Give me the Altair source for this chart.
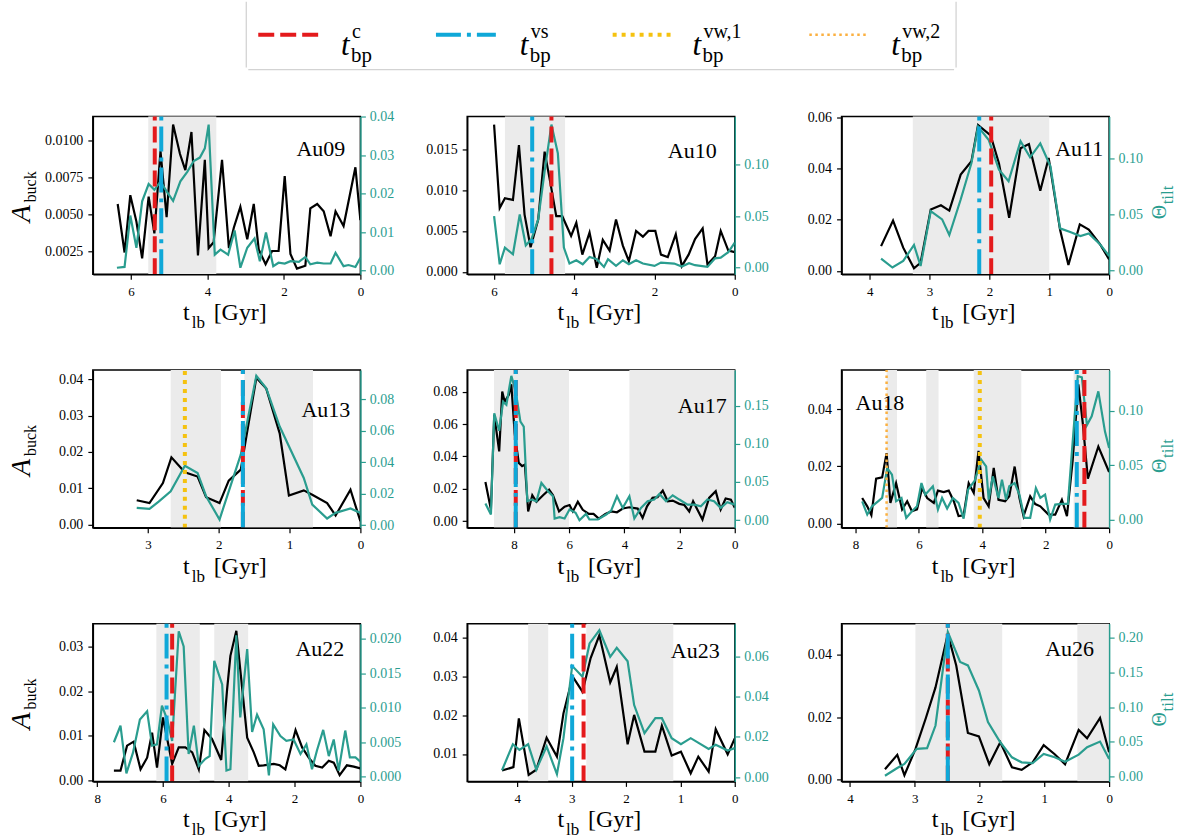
import altair as alt
import pandas as pd

SERIF = "'Liberation Serif', 'DejaVu Serif', serif"
TEAL = "#2a9d8f"
RED = "#e41a1c"
BLUE = "#0fa8d8"
GOLD = "#f5c20f"
ORANGE = "#fbb040"
BAND = "#ebebeb"

# ---------------------------------------------------------------------------
# Buckling amplitude A_buck and bar tilt Theta_tilt vs lookback time (Gyr)
# each series: list of (t_lb, value)
# ---------------------------------------------------------------------------
AU09_BUCK = [(6.35, .0057), (6.17, .0024), (6.02, .0063), (5.86, .0045), (5.71, .0020), (5.54, .0062),
             (5.39, .0037), (5.23, .0093), (5.07, .0048), (4.90, .0111), (4.72, .0091), (4.58, .0080),
             (4.42, .0106), (4.25, .0022), (4.07, .0087), (3.97, .0027), (3.84, .0031), (3.62, .0087),
             (3.44, .0027), (3.31, .0041), (3.14, .0055), (2.96, .0033), (2.79, .0057), (2.66, .0026),
             (2.48, .0016), (2.31, .0025), (2.14, .0025), (1.98, .0076), (1.83, .0023), (1.66, .0013),
             (1.44, .0015), (1.31, .0054), (1.13, .0057), (0.96, .0052), (0.78, .0035), (0.65, .0052),
             (0.44, .0042), (0.13, .0082), (0.00, .0046)]
AU09_TILT = [(6.37, .0007), (6.17, .0009), (6.02, .0143), (5.86, .0059), (5.71, .0180), (5.54, .0225),
             (5.39, .0210), (5.23, .0232), (5.07, .0206), (4.90, .0181), (4.71, .0232), (4.53, .0257),
             (4.36, .0285), (4.20, .0294), (4.07, .0318), (3.97, .0380), (3.81, .0041), (3.66, .0054),
             (3.46, .0041), (3.29, .0104), (3.14, .0007), (2.96, .0059), (2.77, .0083), (2.63, .0024),
             (2.47, .0099), (2.28, .0011), (2.14, .0020), (1.98, .0018), (1.83, .0024), (1.61, .0022),
             (1.44, .0035), (1.31, .0016), (1.13, .0020), (0.96, .0018), (0.78, .0018), (0.65, .0046),
             (0.44, .0011), (0.31, .0014), (0.13, .0009), (0.00, .0033)]
AU09_BANDS = [(5.55, 3.77)]
AU09_EVENTS = [("c", 5.38), ("vs", 5.21)]

AU10_BUCK = [(6.00, .0180), (5.86, .0078), (5.73, .0090), (5.53, .0088), (5.38, .0155), (5.24, .0070),
             (5.09, .0030), (4.90, .0064), (4.74, .0147), (4.59, .0107), (4.45, .0068), (4.30, .0068),
             (4.08, .0044), (3.95, .0060), (3.80, .0021), (3.62, .0048), (3.44, .0005), (3.29, .0039),
             (3.12, .0026), (2.96, .0064), (2.79, .0032), (2.64, .0013), (2.46, .0050), (2.29, .0043),
             (2.15, .0050), (1.98, .0050), (1.84, .0021), (1.67, .0018), (1.47, .0046), (1.32, .0007),
             (1.15, .0021), (0.99, .0040), (0.80, .0053), (0.68, .0009), (0.49, .0019), (0.35, .0050),
             (0.16, .0026), (0.00, .0024)]
AU10_TILT = [(6.00, .0500), (5.86, .0032), (5.73, .0194), (5.53, .0129), (5.36, .0516), (5.21, .0216),
             (5.07, .0274), (4.90, .0468), (4.74, .0935), (4.57, .1390), (4.41, .1110), (4.26, .0194),
             (4.12, .0039), (3.95, .0071), (3.79, .0032), (3.62, .0103), (3.44, .0081), (3.26, .0006),
             (3.16, .0081), (2.96, .0016), (2.79, .0071), (2.64, .0032), (2.46, .0071), (2.29, .0039),
             (2.00, .0016), (1.84, .0048), (1.51, .0039), (1.32, .0010), (1.14, .0042), (0.99, .0023),
             (0.68, .0006), (0.49, .0090), (0.35, .0097), (0.16, .0150), (0.00, .0242)]
AU10_BANDS = [(5.73, 4.23)]
AU10_EVENTS = [("c", 4.57), ("vs", 5.05)]

AU11_BUCK = [(3.81, .0097), (3.61, .0197), (3.44, .0091), (3.26, .0010), (3.15, .0032), (2.98, .0240),
             (2.81, .0257), (2.67, .0236), (2.48, .0377), (2.30, .0429), (2.19, .0571), (1.98, .0530),
             (1.84, .0420), (1.67, .0208), (1.48, .0480), (1.34, .0496), (1.15, .0314), (1.01, .0442),
             (0.82, .0162), (0.68, .0023), (0.49, .0182), (0.34, .0162), (0.15, .0104), (0.00, .0045)]
AU11_TILT = [(3.81, .0104), (3.62, .0024), (3.44, .0083), (3.26, .0225), (3.15, .0038), (2.98, .0527),
             (2.79, .0453), (2.67, .0314), (2.48, .0630), (2.30, .0956), (2.19, .1280), (2.01, .1160),
             (1.84, .0896), (1.68, .0793), (1.48, .1150), (1.32, .1006), (1.15, .1130), (0.98, .0926),
             (0.82, .0373), (0.65, .0340), (0.48, .0305), (0.34, .0328), (0.15, .0230), (0.00, .0127)]
AU11_BANDS = [(3.28, 1.00)]
AU11_EVENTS = [("c", 1.97), ("vs", 2.17)]

AU13_BUCK = [(3.16, .0067), (2.98, .0059), (2.79, .0114), (2.67, .0185), (2.48, .0144), (2.30, .0132),
             (2.18, .0075), (1.99, .0059), (1.86, .0121), (1.69, .0151), (1.47, .0404), (1.33, .0374),
             (1.14, .0251), (1.01, .0080), (0.80, .0094), (0.68, .0082), (0.47, .0059), (0.35, .0025),
             (0.14, .0096), (0.00, .0009)]
AU13_TILT = [(3.16, .0110), (2.98, .0103), (2.85, .0150), (2.68, .0215), (2.48, .0378), (2.30, .0331),
             (2.18, .0184), (1.99, .0036), (1.69, .0448), (1.47, .0950), (1.33, .0870), (1.14, .0627),
             (0.80, .0300), (0.68, .0131), (0.47, .0042), (0.35, .0078), (0.14, .0106), (0.00, .0078)]
AU13_BANDS = [(2.68, 1.97), (1.64, 0.67)]
AU13_EVENTS = [("vw1", 2.48), ("c", 1.66), ("vs", 1.66)]

AU17_BUCK = [(9.04, .0242), (8.84, .0072), (8.72, .0656), (8.54, .0431), (8.43, .0800), (8.34, .0738),
             (8.19, .0780), (8.10, .0845), (7.98, .0544), (7.83, .0360), (7.71, .0340), (7.61, .0350),
             (7.49, .0060), (7.34, .0160), (7.19, .0120), (6.95, .0160), (6.73, .0195), (6.59, .0160),
             (6.37, .0060), (6.17, .0090), (5.99, .0100), (5.87, .0060), (5.69, .0120), (5.51, .0070),
             (5.29, .0045), (5.12, .0045), (4.93, .0016), (4.69, .0045), (4.48, .0060), (4.27, .0055),
             (4.06, .0078), (3.82, .0086), (3.52, .0078), (3.34, .0020), (3.18, .0092), (2.98, .0144),
             (2.80, .0148), (2.61, .0189), (2.43, .0123), (2.25, .0127), (2.01, .0107), (1.83, .0100),
             (1.65, .0060), (1.51, .0123), (1.17, .0010), (0.93, .0144), (0.69, .0185), (0.51, .0072),
             (0.33, .0140), (0.14, .0133), (0.00, .0082)]
AU17_TILT = [(9.04, .0217), (8.84, .0074), (8.72, .1400), (8.54, .1170), (8.40, .1550), (8.28, .1510),
             (8.10, .1890), (7.94, .1680), (7.77, .1290), (7.65, .1226), (7.52, .0248), (7.37, .0270),
             (7.19, .0248), (7.01, .0487), (6.77, .0378), (6.59, .0313), (6.53, .0022), (6.35, .0039),
             (6.17, .0022), (5.99, .0139), (5.77, .0096), (5.63, .0000), (5.39, .0083), (5.27, .0009),
             (4.96, .0009), (4.66, .0074), (4.48, .0126), (4.27, .0313), (4.06, .0161), (3.82, .0313),
             (3.64, .0022), (3.40, .0161), (3.16, .0248), (2.92, .0270), (2.73, .0343), (2.49, .0248),
             (2.25, .0326), (2.01, .0270), (1.71, .0204), (1.47, .0204), (1.23, .0183), (0.99, .0270),
             (0.75, .0248), (0.51, .0161), (0.27, .0235), (0.00, .0204)]
AU17_BANDS = [(8.73, 6.01), (3.82, 0.00)]
AU17_EVENTS = [("c", 7.94), ("vs", 7.94)]

AU18_BUCK = [(7.79, .0089), (7.63, .0060), (7.50, .0029), (7.35, .0157), (7.16, .0161), (7.02, .0246),
             (6.90, .0072), (6.72, .0141), (6.53, .0049), (6.37, .0078), (6.22, .0043), (6.06, .0049),
             (5.90, .0124), (5.74, .0089), (5.53, .0072), (5.40, .0115), (5.22, .0110), (5.06, .0115),
             (4.90, .0078), (4.75, .0026), (4.59, .0029), (4.43, .0141), (4.27, .0107), (4.12, .0254),
             (3.96, .0089), (3.80, .0060), (3.64, .0194), (3.49, .0083), (3.28, .0078), (3.15, .0095),
             (2.98, .0199), (2.83, .0090), (2.70, .0026), (2.49, .0095), (2.33, .0068), (2.17, .0060),
             (1.91, .0031), (1.70, .0031), (1.49, .0083), (1.33, .0026), (1.15, .0220), (0.97, .0486),
             (0.83, .0350), (0.67, .0157), (0.34, .0269), (0.00, .0180)]
AU18_TILT = [(7.79, .0168), (7.63, .0046), (7.48, .0122), (7.29, .0168), (7.16, .0199), (7.00, .0474),
             (6.85, .0413), (6.72, .0168), (6.55, .0199), (6.40, .0015), (6.22, .0076), (6.06, .0122),
             (5.92, .0336), (5.80, .0229), (5.56, .0306), (5.40, .0092), (5.27, .0199), (5.11, .0101),
             (4.93, .0199), (4.75, .0153), (4.59, .0009), (4.45, .0275), (4.24, .0358), (4.03, .0550),
             (3.88, .0489), (3.80, .0183), (3.67, .0398), (3.49, .0199), (3.38, .0367), (3.25, .0183),
             (3.15, .0306), (2.98, .0336), (2.83, .0230), (2.67, .0015), (2.49, .0015), (2.31, .0290),
             (2.17, .0199), (2.02, .0229), (1.86, .0000), (1.70, .0138), (1.49, .0144), (1.30, .0144),
             (0.99, .1320), (0.86, .1310), (0.70, .0870), (0.55, .0950), (0.34, .1180), (0.13, .0810),
             (0.00, .0660)]
AU18_BANDS = [(7.02, 6.69), (5.77, 5.38), (4.27, 2.77), (1.12, 0.00)]
AU18_EVENTS = [("vw2", 7.02), ("vw1", 4.08), ("c", 0.78), ("vs", 1.02)]

AU22_BUCK = [(7.49, .0022), (7.29, .0022), (7.09, .0078), (6.89, .0087), (6.68, .0025), (6.48, .0051),
             (6.33, .0107), (6.18, .0029), (6.00, .0141), (5.87, .0093), (5.72, .0037), (5.52, .0074),
             (5.32, .0074), (5.11, .0063), (4.91, .0025), (4.74, .0113), (4.51, .0093), (4.23, .0046),
             (4.05, .0204), (3.95, .0279), (3.77, .0335), (3.44, .0096), (3.24, .0063), (3.09, .0033),
             (2.94, .0034), (2.63, .0037), (2.45, .0034), (2.28, .0025), (1.97, .0113), (1.77, .0074),
             (1.57, .0051), (1.37, .0033), (1.16, .0029), (0.96, .0044), (0.81, .0040), (0.63, .0012),
             (0.41, .0034), (0.20, .0031), (0.00, .0027)]
AU22_TILT = [(7.49, .0050), (7.29, .0074), (7.11, .0005), (6.91, .0035), (6.70, .0083), (6.48, .0095),
             (6.33, .0045), (6.18, .0047), (6.03, .0103), (5.87, .0083), (5.72, .0052), (5.52, .0211),
             (5.37, .0189), (5.22, .0033), (5.06, .0074), (4.91, .0016), (4.71, .0026), (4.58, .0030),
             (4.44, .0168), (4.20, .0134), (4.07, .0009), (3.95, .0011), (3.77, .0205), (3.65, .0086),
             (3.44, .0185), (3.29, .0065), (3.14, .0090), (2.94, .0069), (2.78, .0002), (2.65, .0076),
             (2.43, .0059), (2.25, .0052), (2.03, .0054), (1.82, .0033), (1.64, .0047), (1.47, .0011),
             (1.32, .0038), (1.13, .0068), (0.96, .0030), (0.81, .0054), (0.66, .0009), (0.46, .0067),
             (0.32, .0028), (0.15, .0028), (0.00, .0022)]
AU22_BANDS = [(6.20, 4.88), (4.44, 3.41)]
AU22_EVENTS = [("c", 5.72), ("vs", 5.89)]

AU23_BUCK = [(4.28, .0057), (4.07, .0066), (3.97, .0192), (3.79, .0046), (3.65, .0059), (3.46, .0142),
             (3.27, .0093), (3.15, .0205), (2.98, .0300), (2.80, .0261), (2.65, .0348), (2.49, .0407),
             (2.29, .0285), (2.17, .0325), (1.97, .0125), (1.85, .0201), (1.66, .0106), (1.46, .0106),
             (1.34, .0173), (1.16, .0096), (0.99, .0106), (0.81, .0050), (0.67, .0093), (0.48, .0054),
             (0.35, .0164), (0.13, .0099), (0.00, .0140)]
AU23_TILT = [(4.28, .0035), (4.08, .0164), (3.96, .0136), (3.80, .0164), (3.65, .0038), (3.46, .0153),
             (3.27, .0016), (3.15, .0194), (2.99, .0552), (2.80, .0498), (2.67, .0663), (2.49, .0728),
             (2.29, .0597), (2.17, .0641), (1.97, .0575), (1.85, .0358), (1.66, .0219), (1.46, .0293),
             (1.34, .0293), (1.16, .0194), (0.99, .0164), (0.81, .0194), (0.48, .0141), (0.35, .0161),
             (0.13, .0133), (0.00, .0145)]
AU23_BANDS = [(3.80, 3.43), (2.73, 1.13)]
AU23_EVENTS = [("c", 2.78), ("vs", 2.99)]

AU26_BUCK = [(3.46, .0034), (3.27, .0080), (3.16, .0015), (2.99, .0098), (2.83, .0197), (2.68, .0296),
             (2.49, .0467), (2.36, .0366), (2.18, .0150), (2.01, .0139), (1.85, .0050), (1.68, .0120),
             (1.50, .0040), (1.35, .0032), (1.18, .0056), (1.01, .0111), (0.84, .0082), (0.68, .0050),
             (0.47, .0160), (0.34, .0133), (0.14, .0198), (0.00, .0088)]
AU26_TILT = [(3.46, .0014), (3.27, .0125), (3.16, .0183), (2.97, .0400), (2.81, .0410), (2.68, .0736),
             (2.49, .2080), (2.30, .1650), (2.18, .1600), (2.01, .1240), (1.87, .0784), (1.68, .0495),
             (1.50, .0279), (1.35, .0207), (1.18, .0197), (1.01, .0327), (0.84, .0279), (0.68, .0216),
             (0.47, .0317), (0.34, .0423), (0.14, .0505), (0.00, .0255)]
AU26_BANDS = [(2.99, 1.65), (0.49, 0.00)]
AU26_EVENTS = [("c", 2.49), ("vs", 2.49)]

GALAXIES = [
    ("Au09", AU09_BUCK, AU09_TILT, AU09_BANDS, AU09_EVENTS),
    ("Au10", AU10_BUCK, AU10_TILT, AU10_BANDS, AU10_EVENTS),
    ("Au11", AU11_BUCK, AU11_TILT, AU11_BANDS, AU11_EVENTS),
    ("Au13", AU13_BUCK, AU13_TILT, AU13_BANDS, AU13_EVENTS),
    ("Au17", AU17_BUCK, AU17_TILT, AU17_BANDS, AU17_EVENTS),
    ("Au18", AU18_BUCK, AU18_TILT, AU18_BANDS, AU18_EVENTS),
    ("Au22", AU22_BUCK, AU22_TILT, AU22_BANDS, AU22_EVENTS),
    ("Au23", AU23_BUCK, AU23_TILT, AU23_BANDS, AU23_EVENTS),
    ("Au26", AU26_BUCK, AU26_TILT, AU26_BANDS, AU26_EVENTS),
]

# axis limits / ticks of each panel
AXES = {
    "Au09": dict(xmax=7.00, xt=[0, 2, 4, 6], yd=[0.00092, 0.01165], yt=[0.0025, 0.005, 0.0075, 0.01], yf=".4f",
                 rd=[-0.001, 0.0401], rt=[0, 0.01, 0.02, 0.03, 0.04], rf=".2f"),
    "Au10": dict(xmax=6.67, xt=[0, 2, 4, 6], yd=[-0.0003, 0.019], yt=[0, 0.005, 0.01, 0.015], yf=".3f",
                 rd=[-0.0065, 0.1468], rt=[0, 0.05, 0.10], rf=".2f"),
    "Au11": dict(xmax=4.47, xt=[0, 1, 2, 3, 4], yd=[-0.0013, 0.0604], yt=[0, 0.02, 0.04, 0.06], yf=".2f",
                 rd=[-0.0036, 0.137], rt=[0, 0.05, 0.10], rf=".2f"),
    "Au13": dict(xmax=3.78, xt=[0, 1, 2, 3], yd=[-0.0009, 0.0425], yt=[0, 0.01, 0.02, 0.03, 0.04], yf=".2f",
                 rd=[-0.0017, 0.0986], rt=[0, 0.02, 0.04, 0.06, 0.08], rf=".2f"),
    "Au17": dict(xmax=9.70, xt=[0, 2, 4, 6, 8], yd=[-0.0041, 0.0933], yt=[0, 0.02, 0.04, 0.06, 0.08], yf=".2f",
                 rd=[-0.010, 0.1965], rt=[0, 0.05, 0.10, 0.15], rf=".2f"),
    "Au18": dict(xmax=8.44, xt=[0, 2, 4, 6, 8], yd=[-0.0015, 0.0536], yt=[0, 0.02, 0.04], yf=".2f",
                 rd=[-0.0076, 0.1376], rt=[0, 0.05, 0.10], rf=".2f"),
    "Au22": dict(xmax=8.13, xt=[0, 2, 4, 6, 8], yd=[-0.0002, 0.0351], yt=[0, 0.01, 0.02, 0.03], yf=".2f",
                 rd=[-0.00067, 0.0222], rt=[0, 0.005, 0.010, 0.015, 0.020], rf=".3f"),
    "Au23": dict(xmax=4.92, xt=[0, 1, 2, 3, 4], yd=[0.0029, 0.0437], yt=[0.01, 0.02, 0.03, 0.04], yf=".2f",
                 rd=[-0.002, 0.0761], rt=[0, 0.02, 0.04, 0.06], rf=".2f"),
    "Au26": dict(xmax=4.13, xt=[0, 1, 2, 3, 4], yd=[-0.0005, 0.050], yt=[0, 0.02, 0.04], yf=".2f",
                 rd=[-0.0067, 0.220], rt=[0, 0.05, 0.10, 0.15, 0.20], rf=".2f"),
}

# placement of the galaxy name inside each panel (left x, baseline y)
NAME_POS = {"Au09": (204, 40), "Au10": (201, 42), "Au11": (214, 40), "Au13": (209, 47), "Au17": (211, 43),
            "Au18": (14, 40), "Au22": (203, 32), "Au23": (204, 34), "Au26": (204, 32)}

# line style of each bar-formation / buckling time marker
EVENT_STYLE = {
    "c": dict(color=RED, strokeDash=[16, 6], strokeWidth=4),
    "vs": dict(color=BLUE, strokeDash=[25, 6, 4, 6], strokeWidth=4),
    "vw1": dict(color=GOLD, strokeDash=[4, 5], strokeWidth=4),
    "vw2": dict(color=ORANGE, strokeDash=[2.5, 3.5], strokeWidth=2.5),
}
EVENT_ORDER = ["vw2", "vw1", "c", "vs"]
LEGEND_KEYS = [("c", "c"), ("vs", "vs"), ("vw1", "vw,1"), ("vw2", "vw,2")]

W, H = 268, 158
ONE = pd.DataFrame({"k": [0]})


def text_layer(txt, x, y, size, color="black", italic=False, angle=0):
    return alt.Chart(ONE).mark_text(
        text=txt, font=SERIF, fontSize=size, color=color, align="left", baseline="alphabetic",
        fontStyle="italic" if italic else "normal", angle=angle,
    ).encode(x=alt.value(x), y=alt.value(y))


def panel(name, buck, tilt, bands, events, col):
    ax = AXES[name]
    xscale = alt.Scale(domain=[0, ax["xmax"]], reverse=True, nice=False, zero=False)
    xaxis = alt.Axis(values=ax["xt"], format="d", title=None, grid=False, labelFont=SERIF,
                     labelFontSize=13, labelColor="black", tickColor="black", tickWidth=1.2,
                     tickSize=5, domainColor="black", domainWidth=1.5, labelPadding=6,
                     labelFlush=False, labelOverlap=False, zindex=1)

    band_df = pd.DataFrame(bands, columns=["start", "end"])
    buck_df = pd.DataFrame(buck, columns=["t", "v"])
    tilt_df = pd.DataFrame(tilt, columns=["t", "v"])

    layers = [
        alt.Chart(band_df).mark_rect(color=BAND).encode(
            x=alt.X("start:Q", scale=xscale, axis=xaxis), x2="end:Q"),
        alt.Chart(buck_df).mark_line(color="black", strokeWidth=2.2, clip=True).encode(
            x=alt.X("t:Q", scale=xscale, axis=xaxis),
            y=alt.Y("v:Q", scale=alt.Scale(domain=ax["yd"], nice=False, zero=False),
                    axis=alt.Axis(orient="left", values=ax["yt"], format=ax["yf"], title=None, grid=False,
                                  labelFont=SERIF, labelFontSize=14, labelColor="black",
                                  tickColor="black", tickWidth=1.2, tickSize=5, domainColor="black",
                                  domainWidth=1.5, labelPadding=5, labelOverlap=False, zindex=1)),
            order="t:Q"),
        alt.Chart(tilt_df).mark_line(color=TEAL, strokeWidth=2.2, clip=True).encode(
            x=alt.X("t:Q", scale=xscale, axis=xaxis),
            y=alt.Y("v:Q", scale=alt.Scale(domain=ax["rd"], nice=False, zero=False),
                    axis=alt.Axis(orient="right", values=ax["rt"], format=ax["rf"], title=None, grid=False,
                                  labelFont=SERIF, labelFontSize=14, labelColor=TEAL,
                                  tickColor=TEAL, tickWidth=1.2, tickSize=5, domainColor=TEAL,
                                  domainWidth=1.5, labelPadding=4, labelOverlap=False, zindex=1)),
            order="t:Q"),
    ]

    for key in EVENT_ORDER:
        ts = [t for k, t in events if k == key]
        if not ts:
            continue
        layers.append(
            alt.Chart(pd.DataFrame({"t": ts})).mark_rule(**EVENT_STYLE[key]).encode(
                x=alt.X("t:Q", scale=xscale, axis=xaxis),
                y=alt.value(H), y2=alt.value(0)))

    nx, ny = NAME_POS[name]
    layers.append(text_layer(name, nx, ny, 22))

    # x-axis title: t_lb [Gyr]
    layers.append(text_layer("t", 90.4, 204, 24))
    layers.append(text_layer("lb", 99.0, 212, 17))
    layers.append(text_layer("[Gyr]", 121, 204, 24))

    if col == 0:
        layers.append(text_layer("A", -63, 106, 28, italic=True, angle=270))
        layers.append(text_layer("buck", -57, 86, 16, angle=270))
    if col == 2:
        layers.append(text_layer("\u0398", 325, 103, 20, color=TEAL, angle=270))
        layers.append(text_layer("tilt", 332, 88, 17, color=TEAL, angle=270))

    return alt.layer(*layers).resolve_scale(y="independent").properties(
        width=W, height=H, view=alt.ViewBackground(stroke="black", strokeWidth=1.5))


panels = [panel(n, b, t, bd, ev, i % 3) for i, (n, b, t, bd, ev) in enumerate(GALAXIES)]
grid = alt.concat(*panels, columns=3, spacing={"row": 96, "column": 107}, bounds="flush")

# ---------------------------------------------------------------------------
# legend strip above the grid
# ---------------------------------------------------------------------------
ORIGIN_X = 92.3
LEG_W, LEG_H = 1018, 68
LEG_BOX = (246, 957)
LEG_LINE = {"c": (258, 318), "vs": (436, 496), "vw1": (613, 673), "vw2": (810, 869)}
LEG_TEXT_X = {"c": 341, "vs": 520, "vw1": 693, "vw2": 892}

leg = [
    alt.Chart(ONE).mark_rect(color="white").encode(
        x=alt.value(-ORIGIN_X), x2=alt.value(1177 - ORIGIN_X), y=alt.value(0), y2=alt.value(LEG_H)),
]
bx0, bx1 = LEG_BOX[0] - ORIGIN_X, LEG_BOX[1] - ORIGIN_X
for xa, xb, ya, yb in [(bx0, bx0, 0, LEG_H - 2), (bx1, bx1, 0, LEG_H - 2), (bx0 + 2, bx1 - 2, LEG_H, LEG_H)]:
    leg.append(alt.Chart(ONE).mark_rule(color="#d3d3d3", strokeWidth=1.3).encode(
        x=alt.value(xa), x2=alt.value(xb), y=alt.value(ya), y2=alt.value(yb)))
for key, sup in LEGEND_KEYS:
    xa, xb = LEG_LINE[key]
    leg.append(alt.Chart(ONE).mark_rule(**EVENT_STYLE[key]).encode(
        x=alt.value(xa - ORIGIN_X), x2=alt.value(xb - ORIGIN_X), y=alt.value(33), y2=alt.value(33)))
    tx = LEG_TEXT_X[key] - ORIGIN_X
    leg.append(text_layer("t", tx, 53, 31, italic=True))
    leg.append(text_layer("bp", tx + 10, 60, 21))
    leg.append(text_layer(sup, tx + 11, 36, 20))

legend = alt.layer(*leg).properties(width=LEG_W, height=LEG_H)

chart = alt.vconcat(legend, grid, spacing=47, bounds="flush").properties(
    padding=0, background="white"
).configure_view(stroke=None)

chart.save("out.html", embed_options={"renderer": "svg", "actions": False})
